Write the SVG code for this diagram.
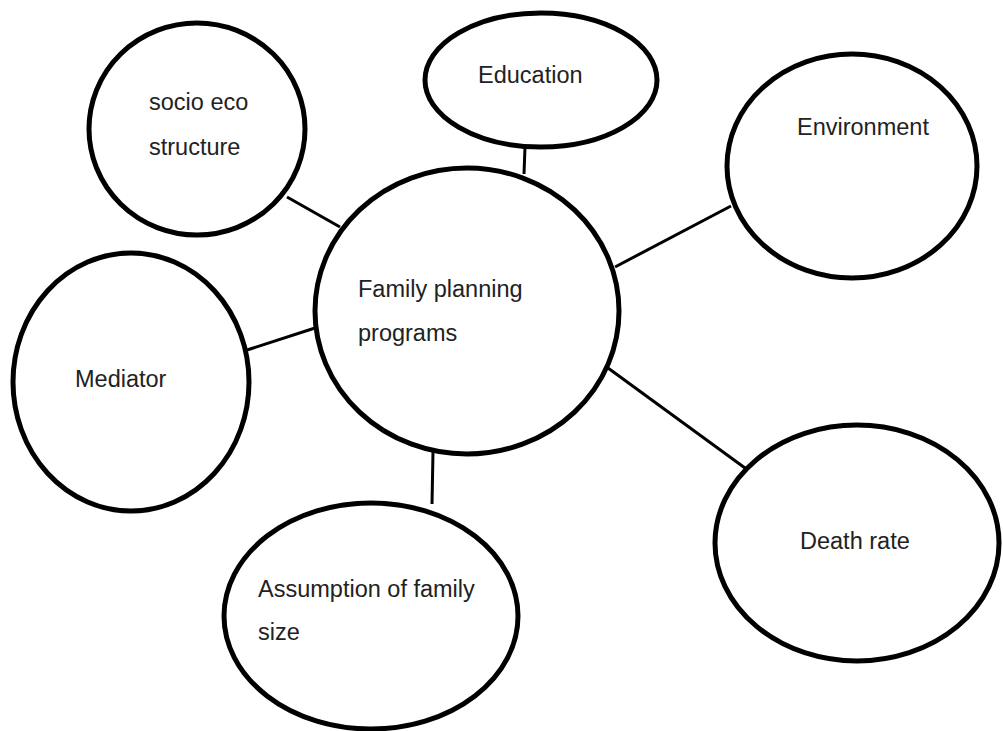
<svg xmlns="http://www.w3.org/2000/svg" width="1003" height="731" viewBox="0 0 1003 731">
<style>
.node{fill:#fff;stroke:#000;stroke-width:5}
.lbl{font-family:"Liberation Sans",Arial,sans-serif;font-size:23.5px;fill:#222}
.conn line{stroke:#000;stroke-width:3}
</style>
<rect width="1003" height="731" fill="#fff"/>
<g class="conn" id="connectors">
<line x1="287" y1="197" x2="340" y2="227"/>
<line x1="525" y1="147" x2="524" y2="174"/>
<line x1="615" y1="267" x2="731" y2="206"/>
<line x1="247" y1="350" x2="315" y2="328"/>
<line x1="608" y1="368" x2="745" y2="468"/>
<line x1="433" y1="452" x2="432" y2="504"/>
</g>
<g id="center">
<ellipse class="node" cx="467" cy="311" rx="152" ry="143"/>
<text class="lbl" x="358" y="297">Family planning</text>
<text class="lbl" x="358" y="341">programs</text>
</g>
<g id="socio">
<ellipse class="node" cx="197" cy="129" rx="108" ry="106"/>
<text class="lbl" x="149" y="110">socio eco</text>
<text class="lbl" x="149" y="155">structure</text>
</g>
<g id="education">
<ellipse class="node" cx="541" cy="80" rx="116" ry="67"/>
<text class="lbl" x="478" y="83">Education</text>
</g>
<g id="environment">
<ellipse class="node" cx="852" cy="166" rx="125" ry="112"/>
<text class="lbl" x="797" y="135">Environment</text>
</g>
<g id="mediator">
<ellipse class="node" cx="131" cy="382" rx="118" ry="129"/>
<text class="lbl" x="75" y="387">Mediator</text>
</g>
<g id="death">
<ellipse class="node" cx="857" cy="543" rx="142" ry="118"/>
<text class="lbl" x="800" y="549">Death rate</text>
</g>
<g id="assumption">
<ellipse class="node" cx="371" cy="616" rx="147" ry="113"/>
<text class="lbl" x="258" y="597">Assumption of family</text>
<text class="lbl" x="258" y="640">size</text>
</g>
</svg>
